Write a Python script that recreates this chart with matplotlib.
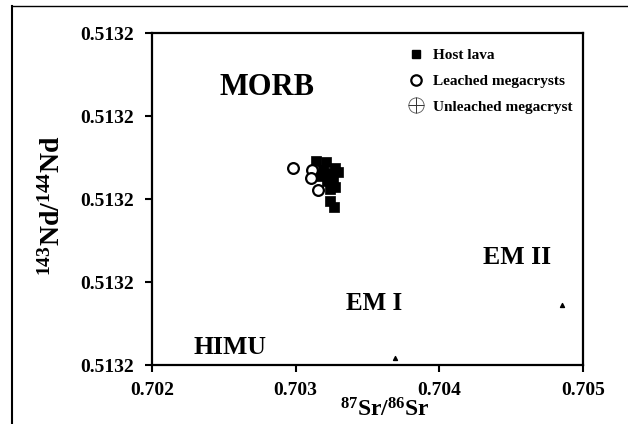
import matplotlib
matplotlib.use("Agg")
import matplotlib.pyplot as plt
from matplotlib.lines import Line2D
from matplotlib.legend_handler import HandlerTuple
from matplotlib.ticker import FormatStrFormatter

plt.rcParams['font.family'] = ['Liberation Serif', 'DejaVu Serif']
plt.rcParams['font.weight'] = 'bold'
plt.rcParams['mathtext.fontset'] = 'custom'
plt.rcParams['mathtext.rm'] = 'Liberation Serif:bold'
plt.rcParams['mathtext.it'] = 'Liberation Serif:bold'
plt.rcParams['mathtext.bf'] = 'Liberation Serif:bold'

# Host lava (87Sr/86Sr, 143Nd/144Nd)
host_sr = [0.703141, 0.703211, 0.703274, 0.703295, 0.703190, 0.703239, 0.703260,
           0.703218, 0.703274, 0.703239, 0.703169, 0.703239, 0.703267]
host_nd = [0.5132046, 0.5132045, 0.5132037, 0.5132033, 0.5132035, 0.5132031, 0.5132024,
           0.5132022, 0.5132014, 0.5132012, 0.5132028, 0.5131998, 0.5131990]
# Leached megacrysts
leach_sr = [0.702983, 0.703111, 0.703106, 0.703157]
leach_nd = [0.5132038, 0.5132035, 0.5132025, 0.5132011]
# small triangle marks (mantle end-member fields)
tri_sr = [0.704858, 0.703691]
tri_nd = [0.5131872, 0.5131808]

xticks = [0.702, 0.703, 0.704, 0.705]
yticks = [0.51318, 0.51319, 0.51320, 0.51321, 0.51322]

region_labels = ['MORB', 'HIMU', 'EM I', 'EM II']
region_x = [0.702804, 0.702543, 0.703545, 0.704544]
region_y = [0.5132134, 0.5131821, 0.5131874, 0.5131930]
region_size = [22, 18.5, 18, 18.5]

fig = plt.figure(figsize=(6.28, 4.24), dpi=100)
ax = fig.add_axes([0.242, 0.139, 0.686, 0.783])

ax.scatter(host_sr, host_nd, marker='s', s=48, c='black', edgecolors='black',
           linewidths=0.5, zorder=3)
ax.scatter(leach_sr, leach_nd, marker='o', s=60, facecolors='white',
           edgecolors='black', linewidths=1.6, zorder=4)
ax.scatter(tri_sr, tri_nd, marker='^', s=8, c='black', zorder=3)

for lab, x, y, fs in zip(region_labels, region_x, region_y, region_size):
    ax.text(x, y, lab, fontsize=fs, fontweight='bold', ha='center', va='center')

ax.set_xlim(0.702, 0.705)
ax.set_ylim(0.51318, 0.51322)
ax.set_xticks(xticks)
ax.set_yticks(yticks)
ax.xaxis.set_major_formatter(FormatStrFormatter('%.3f'))
ax.yaxis.set_major_formatter(FormatStrFormatter('%.4f'))
ax.tick_params(axis='both', direction='out', length=5, width=1.5, labelsize=14)
ax.tick_params(axis='y', pad=8)
ax.tick_params(axis='x', pad=7)
for lbl in ax.get_xticklabels() + ax.get_yticklabels():
    lbl.set_fontweight('bold')
for sp in ax.spines.values():
    sp.set_linewidth(1.6)

ax.set_xlabel(r'$^{87}$Sr/$^{86}$Sr', fontsize=17, fontweight='bold', labelpad=0)
ax.xaxis.set_label_coords(0.54, -0.10)
ax.set_ylabel(r'$^{143}$Nd/$^{144}$Nd', fontsize=20, fontweight='bold')
ax.yaxis.set_label_coords(-0.20, 0.48)

h_host = Line2D([], [], marker='s', ls='', color='black', markersize=6)
h_leach = Line2D([], [], marker='o', ls='', markerfacecolor='white',
                 markeredgecolor='black', markeredgewidth=1.6, markersize=7.5)
h_un1 = Line2D([], [], marker='o', ls='', markerfacecolor='none',
               markeredgecolor='#555555', markeredgewidth=0.6, markersize=11)
h_un2 = Line2D([], [], marker='+', ls='', color='#333333', markeredgewidth=0.7,
               markersize=11)
leg = ax.legend([h_host, h_leach, (h_un1, h_un2)],
                ['Host lava', 'Leached megacrysts', 'Unleached megacryst'],
                handler_map={tuple: HandlerTuple(ndivide=1, pad=0)},
                loc='upper left', bbox_to_anchor=(0.565, 0.99), frameon=False,
                fontsize=11, handlelength=1.1, handletextpad=0.55,
                labelspacing=0.78, borderpad=0.3)
for t in leg.get_texts():
    t.set_fontweight('bold')

# outer frame (left and top)
fig.add_artist(Line2D([12/628, 12/628], [0, 1 - 6/424], color='black', lw=1.5))
fig.add_artist(Line2D([12/628, 1], [1 - 6/424, 1 - 6/424], color='black', lw=1.0))

fig.savefig('out.png', dpi=100)
